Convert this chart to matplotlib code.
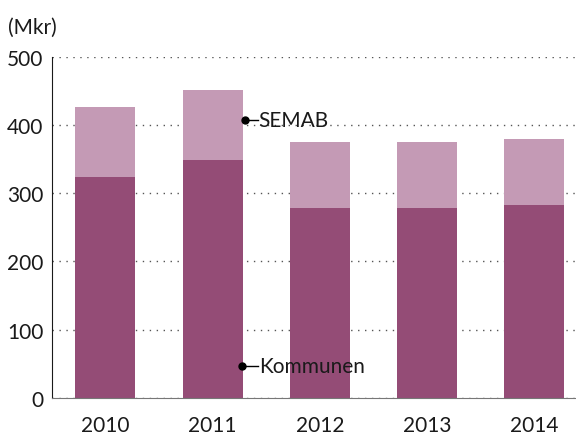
import matplotlib.pyplot as plt
import numpy as np

plt.rcParams['font.family'] = ['Lato', 'DejaVu Sans']

years = ['2010', '2011', '2012', '2013', '2014']
kommunen = [324, 349, 278, 278, 283]
semab = [102, 102, 97, 97, 97]

dark = '#944c76'
light = '#c49ab5'

fig = plt.figure(figsize=(5.76, 4.35), dpi=100)
ax = fig.add_axes([0.090, 0.083, 0.910, 0.784])

x = np.arange(len(years))
ax.bar(x, kommunen, width=0.56, color=dark, zorder=2)
ax.bar(x, semab, bottom=kommunen, width=0.56, color=light, zorder=2)

ax.set_ylim(0, 500)
ax.set_xlim(-0.5, 4.39)
ax.set_yticks([0, 100, 200, 300, 400, 500])
ax.set_xticks(x)
ax.set_xticklabels(years)
ax.tick_params(axis='both', length=0, labelsize=15, colors='#1a1a1a')
ax.tick_params(axis='x', pad=12)
ax.tick_params(axis='y', pad=6)
ax.yaxis.grid(True, linestyle=(0, (1, 4)), color='#555555', linewidth=1, zorder=0)
ax.set_axisbelow(True)

ax.spines['top'].set_visible(False)
ax.spines['right'].set_visible(False)
ax.spines['left'].set_color('#1a1a1a')
ax.spines['bottom'].set_color('#777777')

# inline labels
ax.plot(1.3, 407, 'o', color='black', markersize=5, zorder=4)
ax.plot([1.3, 1.42], [407, 407], color='black', linewidth=1, zorder=4)
ax.text(1.43, 407, 'SEMAB', fontsize=15, va='center', ha='left', color='#1a1a1a', zorder=4)
ax.plot(1.27, 47, 'o', color='black', markersize=5, zorder=4)
ax.plot([1.27, 1.42], [47, 47], color='black', linewidth=1, zorder=4)
ax.text(1.43, 47, 'Kommunen', fontsize=15, va='center', ha='left', color='#1a1a1a', zorder=4)

fig.text(0.014, 0.935, '(Mkr)', fontsize=15, color='#1a1a1a', va='center', ha='left')

plt.savefig('out.png', dpi=100)
